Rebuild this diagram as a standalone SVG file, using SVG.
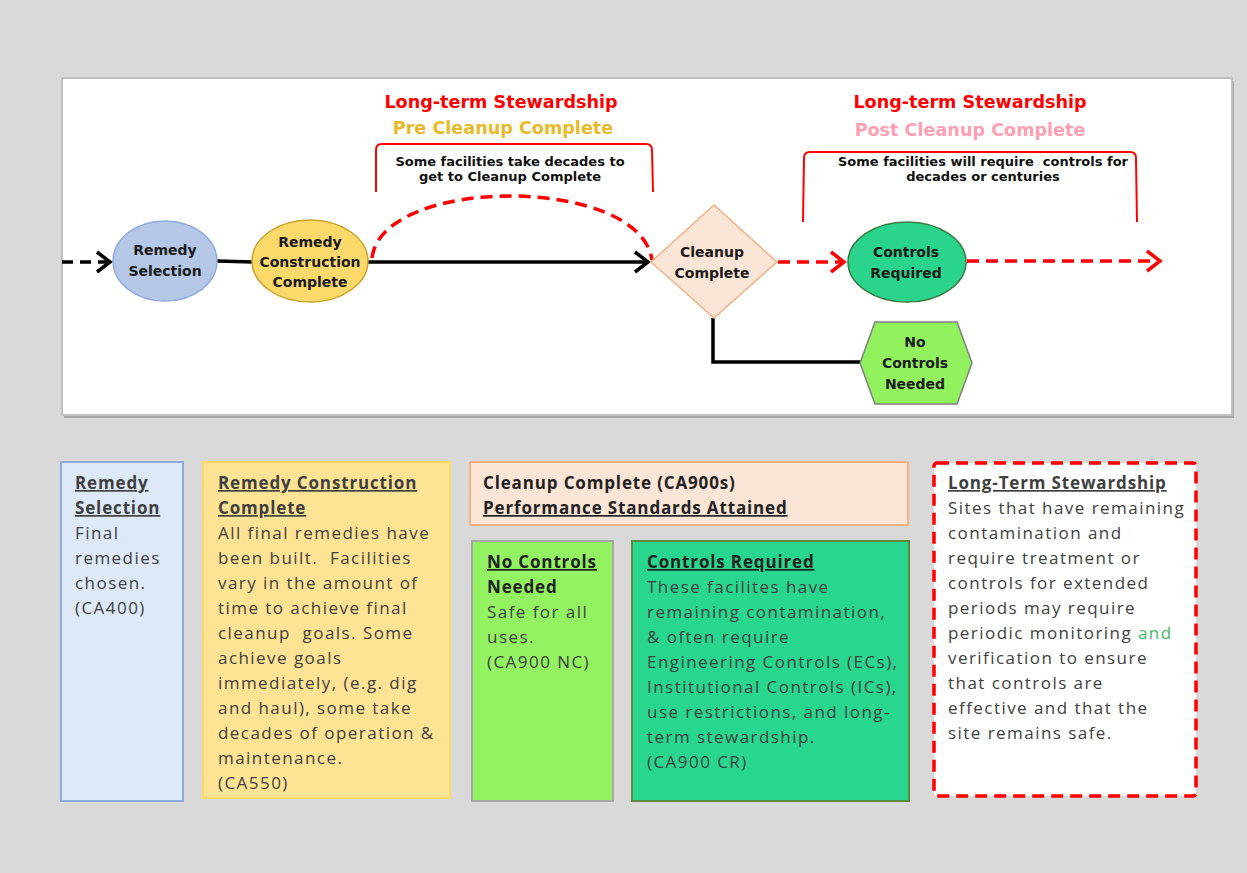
<svg xmlns="http://www.w3.org/2000/svg" width="1247" height="873" viewBox="0 0 1247 873">
<defs>
<style>
.lbl{font-family:"DejaVu Sans",Verdana,sans-serif;font-weight:bold;font-size:14px;fill:#1a1a1a;text-anchor:middle}
.br{font-family:"DejaVu Sans",Verdana,sans-serif;font-weight:bold;font-size:13px;fill:#111;text-anchor:middle;white-space:pre}
.ttl{font-family:"DejaVu Sans",Verdana,sans-serif;font-weight:bold;font-size:17.6px;text-anchor:middle}
.bt{font-family:"Open Sans","Noto Sans",sans-serif;font-size:17px;fill:#404040;letter-spacing:1.45px;white-space:pre}
.bh{font-weight:bold;text-decoration:underline;letter-spacing:0.85px}
.bb{font-weight:bold;letter-spacing:0.85px}
.dk{fill:#222}
.red{fill:none;stroke:#ff0000;stroke-width:3.5;stroke-dasharray:12 7}
.blk{fill:none;stroke:#000;stroke-width:3.5}
.brk{fill:none;stroke:#ff0000;stroke-width:2}
</style>
<marker id="ab" viewBox="0 0 12 12" refX="11" refY="6" markerWidth="12" markerHeight="12" markerUnits="userSpaceOnUse" orient="auto" overflow="visible">
<path d="M-2,-4 L11,6 L-2,16" fill="none" stroke="#000" stroke-width="3.5"/>
</marker>
<marker id="ar" viewBox="0 0 12 12" refX="11" refY="6" markerWidth="12" markerHeight="12" markerUnits="userSpaceOnUse" orient="auto" overflow="visible">
<path d="M-2,-4 L11,6 L-2,16" fill="none" stroke="#ff0000" stroke-width="3.5"/>
</marker>
</defs>
<rect width="1247" height="873" fill="#d9d9d9"/>
<!-- top panel -->
<rect x="64" y="81" width="1170" height="337" fill="#a6a6a6"/>
<rect x="62" y="78" width="1170" height="337" fill="#ffffff" stroke="#bfbfbf" stroke-width="2"/>

<g id="titles">
<text class="ttl" x="501" y="108" fill="#ff0000">Long-term Stewardship</text>
<text class="ttl" x="503" y="134" fill="#e8b92a">Pre Cleanup Complete</text>
<text class="ttl" x="970" y="108" fill="#ff0000">Long-term Stewardship</text>
<text class="ttl" x="970" y="136" fill="#ff9fb2">Post Cleanup Complete</text>
</g>

<g id="brackets">
<path class="brk" d="M376,192 L376,150 Q376,144 382,144 L646,144 Q652,144 652,150 L653,192"/>
<text class="br" x="510" y="166" xml:space="preserve">Some facilities take decades to</text>
<text class="br" x="510" y="181">get to Cleanup Complete</text>
<path class="brk" d="M803,222 L804,158 Q804,152 810,152 L1130,152 Q1136,152 1136,158 L1137,222"/>
<text class="br" x="983" y="166" xml:space="preserve">Some facilities will require  controls for</text>
<text class="br" x="983" y="181">decades or centuries</text>
</g>

<g id="connectors">
<line x1="62" y1="262" x2="110" y2="262" stroke="#000" stroke-width="3.5" stroke-dasharray="11 7" marker-end="url(#ab)"/>
<line x1="217" y1="261" x2="253" y2="262" class="blk"/>
<line x1="368" y1="262" x2="648" y2="262" class="blk" marker-end="url(#ab)"/>
<path class="red" d="M372,258 C382,175 640,175 652,260"/>
<line x1="778" y1="262" x2="844" y2="262" class="red" marker-end="url(#ar)"/>
<line x1="967" y1="261" x2="1160" y2="261" class="red" marker-end="url(#ar)"/>
<path class="blk" d="M713,318 L713,362 L861,362"/>
</g>

<g id="remedy-selection">
<ellipse cx="165" cy="261" rx="52" ry="40" fill="#b4c7e7" stroke="#8faadc" stroke-width="1.5"/>
<text class="lbl" x="165" y="255">Remedy</text>
<text class="lbl" x="165" y="276">Selection</text>
</g>

<g id="remedy-construction">
<ellipse cx="310" cy="261" rx="58" ry="41" fill="#fcd96a" stroke="#c9a227" stroke-width="1.5"/>
<text class="lbl" x="310" y="247">Remedy</text>
<text class="lbl" x="310" y="267">Construction</text>
<text class="lbl" x="310" y="287">Complete</text>
</g>

<g id="cleanup-complete">
<polygon points="651,262 714,205 777,262 714,318" fill="#fbe5d6" stroke="#f4b183" stroke-width="1.5"/>
<text class="lbl" x="712" y="257">Cleanup</text>
<text class="lbl" x="712" y="278">Complete</text>
</g>

<g id="controls-required">
<ellipse cx="907" cy="262" rx="59" ry="40" fill="#2bd48c" stroke="#3b7a40" stroke-width="1.5"/>
<text class="lbl" x="906" y="257">Controls</text>
<text class="lbl" x="906" y="278">Required</text>
</g>

<g id="no-controls">
<polygon points="860,363 875,322 957,322 972,363 957,404 875,404" fill="#92f25e" stroke="#7f7f7f" stroke-width="1.5"/>
<text class="lbl" x="915" y="347">No</text>
<text class="lbl" x="915" y="368">Controls</text>
<text class="lbl" x="915" y="389">Needed</text>
</g>

<g id="box-remedy-selection">
<rect x="61" y="462" width="122" height="339" fill="#dde9f7" stroke="#8faadc" stroke-width="2"/>
<text class="bt" x="75" y="489"><tspan class="bh">Remedy</tspan><tspan class="bh" x="75" dy="25">Selection</tspan><tspan x="75" dy="25">Final</tspan><tspan x="75" dy="25">remedies</tspan><tspan x="75" dy="25">chosen.</tspan><tspan x="75" dy="25">(CA400)</tspan></text>
</g>

<g id="box-remedy-construction">
<rect x="203" y="462" width="247" height="336" fill="#ffe394" stroke="#ffd966" stroke-width="2"/>
<text class="bt" x="218" y="489" xml:space="preserve"><tspan class="bh">Remedy Construction</tspan><tspan class="bh" x="218" dy="25">Complete</tspan><tspan x="218" dy="25">All final remedies have</tspan><tspan x="218" dy="25">been built.  Facilities</tspan><tspan x="218" dy="25">vary in the amount of</tspan><tspan x="218" dy="25">time to achieve final</tspan><tspan x="218" dy="25">cleanup  goals. Some</tspan><tspan x="218" dy="25">achieve goals</tspan><tspan x="218" dy="25">immediately, (e.g. dig</tspan><tspan x="218" dy="25">and haul), some take</tspan><tspan x="218" dy="25">decades of operation &amp;</tspan><tspan x="218" dy="25">maintenance.</tspan><tspan x="218" dy="25">(CA550)</tspan></text>
</g>

<g id="box-cleanup-complete">
<rect x="470" y="462" width="438" height="63" fill="#fbe5d6" stroke="#f4b183" stroke-width="2"/>
<text class="bt dk" x="483" y="489"><tspan class="bb">Cleanup Complete (CA900s)</tspan><tspan class="bh" x="483" dy="25">Performance Standards Attained</tspan></text>
</g>

<g id="box-no-controls">
<rect x="472" y="541" width="141" height="260" fill="#93f262" stroke="#a6a6a6" stroke-width="2"/>
<text class="bt" x="487" y="568"><tspan class="bh dk">No Controls</tspan><tspan class="bb dk" x="487" dy="25">Needed</tspan><tspan x="487" dy="25">Safe for all</tspan><tspan x="487" dy="25">uses.</tspan><tspan x="487" dy="25">(CA900 NC)</tspan></text>
</g>

<g id="box-controls-required">
<rect x="632" y="541" width="277" height="260" fill="#28d68d" stroke="#5b8a3c" stroke-width="2"/>
<text class="bt" x="647" y="568"><tspan class="bh dk">Controls Required</tspan><tspan x="647" dy="25">These facilites have</tspan><tspan x="647" dy="25">remaining contamination,</tspan><tspan x="647" dy="25">&amp; often require</tspan><tspan x="647" dy="25">Engineering Controls (ECs),</tspan><tspan x="647" dy="25">Institutional Controls (ICs),</tspan><tspan x="647" dy="25">use restrictions, and long-</tspan><tspan x="647" dy="25">term stewardship.</tspan><tspan x="647" dy="25">(CA900 CR)</tspan></text>
</g>

<g id="box-lts">
<rect x="934" y="463" width="262" height="333" rx="3" fill="#ffffff" stroke="#ff0000" stroke-width="3.5" stroke-dasharray="12 7"/>
<text class="bt" x="948" y="489"><tspan class="bh">Long-Term Stewardship</tspan><tspan x="948" dy="25">Sites that have remaining</tspan><tspan x="948" dy="25">contamination and</tspan><tspan x="948" dy="25">require treatment or</tspan><tspan x="948" dy="25">controls for extended</tspan><tspan x="948" dy="25">periods may require</tspan><tspan x="948" dy="25">periodic monitoring <tspan fill="#3cb85c">and</tspan></tspan><tspan x="948" dy="25">verification to ensure</tspan><tspan x="948" dy="25">that controls are</tspan><tspan x="948" dy="25">effective and that the</tspan><tspan x="948" dy="25">site remains safe.</tspan></text>
</g>
</svg>
